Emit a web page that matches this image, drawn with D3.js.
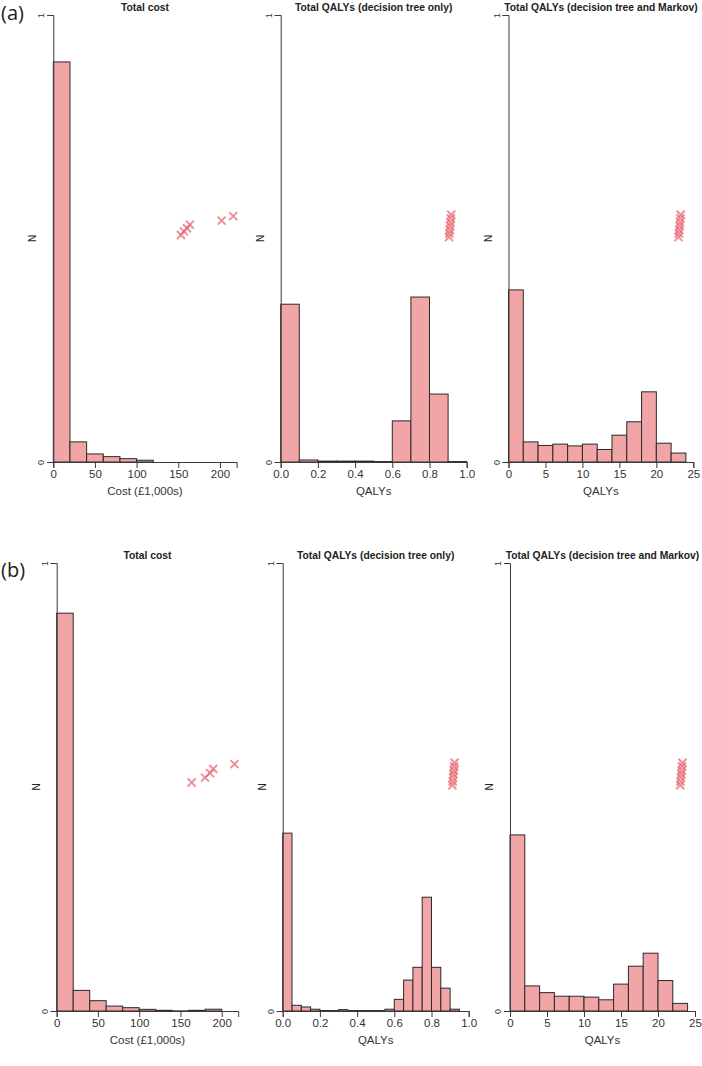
<!DOCTYPE html>
<html>
<head>
<meta charset="utf-8">
<script src="https://cdn.jsdelivr.net/npm/d3@7"></script>
<style>
  html, body { margin: 0; padding: 0; background: #fff; }
  svg { display: block; }
</style>
</head>
<body>
<svg id="chart" width="702" height="1066"></svg>
<script>
// ---------- DATA ----------
// Bin starts (categories) and relative frequencies (series values)
const costBinsA = [0, 20, 40, 60, 80, 100];
const costValsA = [0.895, 0.045, 0.018, 0.012, 0.0075, 0.004];

const dtBinsA = [0, 0.1, 0.2, 0.3, 0.4, 0.5, 0.6, 0.7, 0.8, 0.9];
const dtValsA = [0.353, 0.0045, 0.002, 0.002, 0.002, 0.001, 0.092, 0.369, 0.152, 0.001];

const mkBinsA = [0, 2, 4, 6, 8, 10, 12, 14, 16, 18, 20, 22];
const mkValsA = [0.385, 0.045, 0.037, 0.040, 0.036, 0.040, 0.028, 0.060, 0.090, 0.157, 0.042, 0.020];

const costBinsB = [0, 20, 40, 60, 80, 100, 120, 140, 160, 180];
const costValsB = [0.888, 0.046, 0.023, 0.011, 0.0074, 0.0037, 0.0015, 0.0003, 0.0015, 0.004];

const dtBinsB = [0, 0.05, 0.1, 0.15, 0.2, 0.25, 0.3, 0.35, 0.4, 0.45, 0.5, 0.55, 0.6, 0.65, 0.7, 0.75, 0.8, 0.85, 0.9];
const dtValsB = [0.397, 0.0127, 0.009, 0.004, 0.001, 0.001, 0.003, 0.001, 0.001, 0.001, 0.001, 0.004, 0.026, 0.069, 0.0975, 0.254, 0.0975, 0.051, 0.004];

const mkBinsB = [0, 2, 4, 6, 8, 10, 12, 14, 16, 18, 20, 22];
const mkValsB = [0.393, 0.056, 0.041, 0.033, 0.033, 0.031, 0.025, 0.060, 0.100, 0.129, 0.068, 0.017];

// Cross markers [x, y]
const costCrossA = [[153.2, 0.508], [156.8, 0.516], [160.4, 0.523], [164, 0.531], [202, 0.540], [216, 0.550]];
const dtCrossA = [[0.905, 0.503], [0.907, 0.511], [0.909, 0.519], [0.911, 0.528], [0.913, 0.536], [0.915, 0.545], [0.917, 0.553]];
const mkCrossA = [[23.0, 0.503], [23.05, 0.511], [23.1, 0.519], [23.15, 0.528], [23.2, 0.536], [23.25, 0.545], [23.3, 0.553]];
const costCrossB = [[163.6, 0.510], [179.8, 0.521], [185.8, 0.531], [189.8, 0.540], [215.5, 0.551]];
const dtCrossB = [[0.912, 0.504], [0.914, 0.512], [0.916, 0.521], [0.918, 0.529], [0.920, 0.537], [0.922, 0.546], [0.924, 0.554]];
const mkCrossB = [[23.0, 0.504], [23.05, 0.512], [23.1, 0.521], [23.15, 0.529], [23.2, 0.537], [23.25, 0.546], [23.3, 0.554]];

// Tick labels
const costTicks = [0, 50, 100, 150, 200];
const dtTicks = [0, 0.2, 0.4, 0.6, 0.8, 1.0];
const mkTicks = [0, 5, 10, 15, 20, 25];
const yTicks = [0, 1];

const titles = ["Total cost", "Total QALYs (decision tree only)", "Total QALYs (decision tree and Markov)"];
const xLabels = ["Cost (£1,000s)", "QALYs", "QALYs"];
const rowLabels = ["(a)", "(b)"];

// ---------- LAYOUT ----------
const rows = [
  { top: 15, base: 462, labelY: 20 },
  { top: 563, base: 1011, labelY: 577 }
];
const panels = [
  { row: 0, col: 0, bins: costBinsA, vals: costValsA, bw: 20, dom: [0, 220], px: [53.3, 236.6], ticks: costTicks, fmt: d3.format("d"), cross: costCrossA },
  { row: 0, col: 1, bins: dtBinsA, vals: dtValsA, bw: 0.1, dom: [0, 1], px: [280.7, 466.7], ticks: dtTicks, fmt: d3.format(".1f"), cross: dtCrossA },
  { row: 0, col: 2, bins: mkBinsA, vals: mkValsA, bw: 2, dom: [0, 25], px: [508.5, 693.3], ticks: mkTicks, fmt: d3.format("d"), cross: mkCrossA },
  { row: 1, col: 0, bins: costBinsB, vals: costValsB, bw: 20, dom: [0, 220], px: [56.7, 238.2], ticks: costTicks, fmt: d3.format("d"), cross: costCrossB },
  { row: 1, col: 1, bins: dtBinsB, vals: dtValsB, bw: 0.05, dom: [0, 1], px: [282.7, 468.7], ticks: dtTicks, fmt: d3.format(".1f"), cross: dtCrossB },
  { row: 1, col: 2, bins: mkBinsB, vals: mkValsB, bw: 2, dom: [0, 25], px: [510, 695], ticks: mkTicks, fmt: d3.format("d"), cross: mkCrossB }
];

const svg = d3.select("#chart");
const axisColor = "#3a3a3a";
const textColor = "#333";
const font = "'Liberation Sans', Arial, sans-serif";

rows.forEach((r, i) => {
  svg.append("text")
    .attr("x", 1).attr("y", r.labelY)
    .attr("font-family", "'Open Sans', 'Noto Sans', sans-serif")
    .attr("font-size", 20).attr("fill", "#222")
    .text(rowLabels[i]);
});

panels.forEach(p => {
  const r = rows[p.row];
  const x = d3.scaleLinear().domain(p.dom).range(p.px);
  const y = d3.scaleLinear().domain([0, 1]).range([r.base, r.top]);
  const g = svg.append("g");

  // bars
  g.selectAll("rect.bar").data(p.bins.map((b, i) => ({ b, v: p.vals[i] })))
    .join("rect")
    .attr("class", "bar")
    .attr("x", d => x(d.b))
    .attr("width", d => x(d.b + p.bw) - x(d.b))
    .attr("y", d => y(d.v))
    .attr("height", d => y(0) - y(d.v))
    .attr("fill", "#F2A5A7")
    .attr("stroke", "#2a2a2a")
    .attr("stroke-width", 1);

  // x axis
  const xa = d3.axisBottom(x).tickValues(p.ticks).tickFormat(p.fmt).tickSizeOuter(0).tickSize(6).tickPadding(2);
  const xg = g.append("g").attr("transform", `translate(0,${r.base})`).call(xa);
  xg.select(".domain").attr("stroke", axisColor);
  xg.selectAll(".tick line").attr("stroke", axisColor);
  xg.selectAll(".tick text").attr("font-family", font).attr("font-size", 11.5).attr("fill", textColor);

  // y axis
  const ya = d3.axisLeft(y).tickValues(yTicks).tickFormat(d3.format("d")).tickSizeOuter(0).tickSize(6);
  const yg = g.append("g").attr("transform", `translate(${x(0)},0)`).call(ya);
  yg.select(".domain").attr("stroke", axisColor);
  yg.selectAll(".tick line").attr("stroke", axisColor);
  yg.selectAll(".tick text")
    .attr("font-family", font).attr("font-size", 9).attr("fill", textColor)
    .attr("x", null).attr("dy", null)
    .attr("text-anchor", "middle")
    .attr("transform", "translate(-9,0) rotate(-90)");

  // y label N
  g.append("text")
    .attr("transform", `translate(${x(0) - 17},${(r.base + r.top) / 2}) rotate(-90)`)
    .attr("text-anchor", "middle")
    .attr("font-family", font).attr("font-size", 10).attr("fill", "#222")
    .text("N");

  // x label
  g.append("text")
    .attr("x", (p.px[0] + p.px[1]) / 2).attr("y", r.base + 33)
    .attr("text-anchor", "middle")
    .attr("font-family", font).attr("font-size", 11.5).attr("fill", textColor)
    .text(xLabels[p.col]);

  // title
  g.append("text")
    .attr("x", (p.px[0] + p.px[1]) / 2).attr("y", r.top - 4)
    .attr("text-anchor", "middle")
    .attr("font-family", font).attr("font-size", 10.3).attr("font-weight", "bold").attr("fill", "#222")
    .text(titles[p.col]);

  // crosses
  const s = 4;
  g.selectAll("path.cross").data(p.cross).join("path")
    .attr("class", "cross")
    .attr("d", d => {
      const cx = x(d[0]), cy = y(d[1]);
      return `M${cx - s},${cy - s}L${cx + s},${cy + s}M${cx - s},${cy + s}L${cx + s},${cy - s}`;
    })
    .attr("stroke", "#E8616E")
    .attr("stroke-opacity", 0.7)
    .attr("stroke-width", 2)
    .attr("fill", "none");
});
</script>
</body>
</html>
